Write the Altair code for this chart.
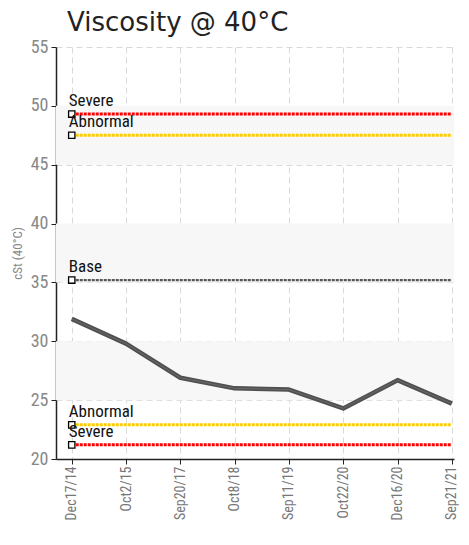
import altair as alt
import pandas as pd

dates = ["Dec17/14", "Oct2/15", "Sep20/17", "Oct8/18", "Sep11/19", "Oct22/20", "Dec16/20", "Sep21/21"]
values = [31.9, 29.8, 26.9, 26.0, 25.9, 24.3, 26.7, 24.7]

limit_names = ["Severe", "Abnormal", "Base", "Abnormal", "Severe"]
limit_values = [49.3, 47.5, 35.2, 22.9, 21.2]
limit_colors = ["#ff0000", "#ffcc00", "#555555", "#ffcc00", "#ff0000"]
limit_widths = [3, 3, 2.2, 3, 3]

band_lo = [25, 35, 45]
band_hi = [30, 40, 50]
y_ticks = [20, 25, 30, 35, 40, 45, 50, 55]

W, H = 398, 412
FONT_C = "Liberation Sans Narrow, Roboto Condensed, Arial Narrow, Roboto, sans-serif"

main_df = pd.DataFrame({"idx": list(range(len(dates))), "date": dates, "v": values})
lim_df = pd.DataFrame({
    "name": limit_names, "v": limit_values, "color": limit_colors,
    "w": limit_widths, "x0": [0] * len(limit_names), "x1": [len(dates) - 1] * len(limit_names),
})
band_df = pd.DataFrame({"lo": band_lo, "hi": band_hi})

label_expr = "[" + ",".join("'" + d + "'" for d in dates) + "][datum.value]"

xscale = alt.Scale(domain=[-0.29, 7.04], nice=False, zero=False)
yscale = alt.Scale(domain=[20, 55], nice=False, zero=False)

xaxis = alt.Axis(values=list(range(len(dates))), labelExpr=label_expr, labelAngle=270,
                 labelAlign="right", labelBaseline="middle", labelFont=FONT_C, labelFontSize=14,
                 labelColor="#777777", labelPadding=2, title=None, grid=True,
                 gridDash=[6, 4], gridColor="#d9d9d9", domainColor="#222222", tickColor="#222222",
                 tickSize=5, domainWidth=1.5)
yaxis = alt.Axis(values=y_ticks, labelFont=FONT_C, labelFontSize=18, labelColor="#888888",
                 labelPadding=3, title="cSt (40°C)", titleFont=FONT_C, titleFontSize=13,
                 titleColor="#888888", titleFontWeight="normal", titlePadding=2,
                 grid=True, gridDash=[6, 4], gridColor="#d9d9d9", domainColor="#222222",
                 tickColor="#222222", tickSize=5, domainWidth=1.5, minExtent=30, maxExtent=30)

bands = alt.Chart(band_df).mark_rect(color="#f7f7f7").encode(
    x=alt.value(0), x2=alt.value(W),
    y=alt.Y("lo:Q", scale=yscale, axis=yaxis), y2="hi:Q",
)

grid_base = alt.Chart(main_df).mark_point(opacity=0).encode(
    x=alt.X("idx:Q", scale=xscale, axis=xaxis),
    y=alt.Y("v:Q", scale=yscale, axis=yaxis),
)

lim_lines = alt.Chart(lim_df).mark_rule(strokeDash=[3, 1]).encode(
    x=alt.X("x0:Q", scale=xscale),
    x2="x1:Q",
    y=alt.Y("v:Q", scale=yscale),
    color=alt.Color("color:N", scale=None, legend=None),
    strokeWidth=alt.StrokeWidth("w:Q", scale=None, legend=None),
)

line = alt.Chart(main_df).mark_line(color="#505050", strokeWidth=4.5, strokeJoin="round").encode(
    x=alt.X("idx:Q", scale=xscale),
    y=alt.Y("v:Q", scale=yscale),
)
line2 = alt.Chart(main_df).mark_line(color="#6a6a6a", strokeWidth=1).encode(
    x=alt.X("idx:Q", scale=xscale),
    y=alt.Y("v:Q", scale=yscale),
)

markers = alt.Chart(lim_df).mark_square(fill="white", stroke="black", strokeWidth=1.3,
                                        size=40, opacity=1).encode(
    x=alt.X("x0:Q", scale=xscale),
    y=alt.Y("v:Q", scale=yscale),
)

labels = alt.Chart(lim_df).mark_text(align="left", baseline="bottom", dx=-3, dy=-4,
                                     font=FONT_C, fontSize=17, color="#111111").encode(
    x=alt.X("x0:Q", scale=xscale),
    y=alt.Y("v:Q", scale=yscale),
    text="name:N",
)

chart = alt.layer(bands, grid_base, lim_lines, line, line2, markers, labels).properties(
    width=W, height=H,
    title=alt.TitleParams("Viscosity @ 40°C", anchor="start", frame="group", font="DejaVu Sans",
                          fontSize=26, fontWeight="normal", color="#222222", offset=2, dx=11),
    padding={"left": 3, "top": 2, "right": 0, "bottom": 0},
).configure_view(stroke=None)

chart.save("out.html", embed_options={"renderer": "svg", "actions": False})
